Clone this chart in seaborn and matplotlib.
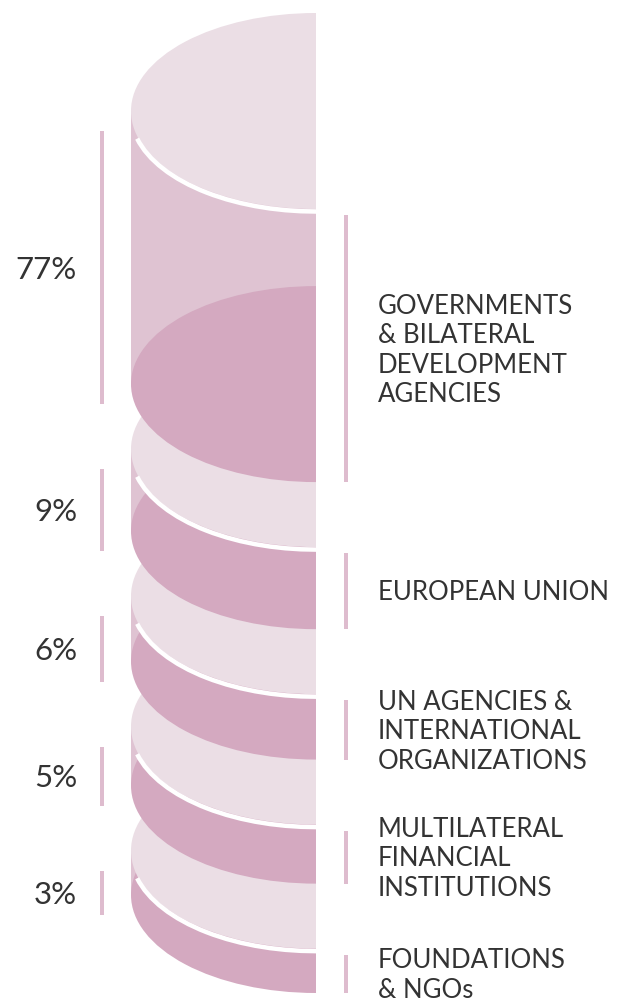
import numpy as np
import matplotlib
matplotlib.use("Agg")
import matplotlib.pyplot as plt
import seaborn as sns
from matplotlib.patches import Ellipse, Rectangle, Arc

# Funding sources and their share of total funding (%)
categories = [
    "GOVERNMENTS\n& BILATERAL\nDEVELOPMENT\nAGENCIES",
    "EUROPEAN UNION",
    "UN AGENCIES &\nINTERNATIONAL\nORGANIZATIONS",
    "MULTILATERAL\nFINANCIAL\nINSTITUTIONS",
    "FOUNDATIONS\n& NGOs",
]
shares = [77, 9, 6, 5, 3]
pct_labels = [f"{v}%" for v in shares]

sns.set_theme(style="white")
plt.rcParams["font.family"] = ["Lato", "DejaVu Sans"]

# Colours: light top face, mid side wall, dark bottom face
light, mid, dark = sns.blend_palette(["#ebdee5", "#d4a9c0"], 3)
bar_color = "#debcce"
text_color = "#333333"

# Canvas in pixel units (y grows downward)
W, H = 626, 1008
fig = plt.figure(figsize=(W / 100, H / 100), dpi=100)
ax = fig.add_axes([0, 0, 1, 1])
ax.set_xlim(0, W)
ax.set_ylim(H, 0)
ax.axis("off")

# Half-cylinder geometry
cx, rx, ry = 316, 185, 98
column_top, disk_gap, column_height = 111, 65, 524
exponent = 0.56  # power scale for disk thickness

weights = np.array(shares, dtype=float) ** exponent
thick = column_height * weights / weights.sum()
tops = column_top + np.concatenate([[0], np.cumsum(thick + disk_gap)[:-1]])
bots = tops + thick

px = 72 / 100  # points per pixel

clip = Rectangle((0, 0), cx, H, transform=ax.transData)

# Draw from the bottom disk up so upper disks overlap lower ones
n = len(shares)
for i in reversed(range(n)):
    z = 10 + (n - i) * 5
    yt, yb = tops[i], bots[i]
    side = Rectangle((cx - rx, yt), rx, yb - yt, facecolor=mid,
                     edgecolor="none", zorder=z)
    ax.add_patch(side)
    bottom = Ellipse((cx, yb), 2 * rx, 2 * ry, facecolor=dark,
                     edgecolor="none", zorder=z + 1)
    ax.add_patch(bottom)
    bottom.set_clip_path(clip)
    face = Ellipse((cx, yt), 2 * rx, 2 * ry, facecolor=light,
                   edgecolor="none", zorder=z + 2)
    ax.add_patch(face)
    face.set_clip_path(clip)
    rim = Arc((cx, yt + 2.5), 2 * rx, 2 * ry, theta1=85, theta2=172,
              color="white", lw=4.5 * px, zorder=z + 3)
    ax.add_patch(rim)
    rim.set_clip_path(clip)

# Range markers and labels
pct_size, label_size = 22.5, 18.5
pct_cap = 0.72 * pct_size / px
label_cap = 0.72 * label_size / px
line_step = 29.5

for i in range(n):
    l0, l1 = tops[i] + 20, bots[i] + 20
    r0, r1 = tops[i] + ry + 6, bots[i] + ry
    ax.vlines(102, l0, l1, color=bar_color, lw=4 * px, zorder=50)
    ax.vlines(346, r0, r1, color=bar_color, lw=4 * px, zorder=50)

    ax.text(77, (l0 + l1) / 2 + pct_cap / 2, pct_labels[i], ha="right",
            va="baseline", fontsize=pct_size, fontweight="normal",
            color=text_color, zorder=60)

    lines = categories[i].split("\n")
    mid_y = (r0 + r1) / 2
    first = mid_y - (len(lines) - 1) / 2 * line_step + label_cap / 2
    for k, line in enumerate(lines):
        ax.text(378, first + k * line_step, line, ha="left", va="baseline",
                fontsize=label_size, color=text_color, zorder=60)

fig.savefig("out.png", dpi=100, facecolor="white")
